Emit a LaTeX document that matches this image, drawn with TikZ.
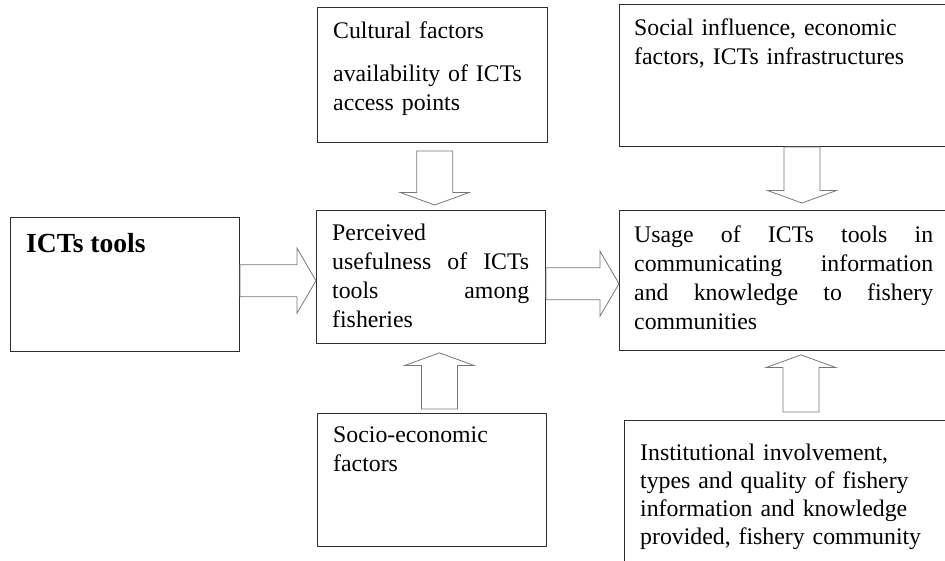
\documentclass[tikz,border=0pt]{standalone}
\usepackage{fontspec}
\setmainfont{Liberation Serif}
\usetikzlibrary{positioning,calc}
\definecolor{BoxColor}{RGB}{45,45,45}
\definecolor{ArrowColor}{RGB}{120,120,120}
\setlength{\parindent}{0pt}
\hyphenpenalty=10000
\tolerance=10000

% hollow block arrows: left to right, and up or down
\newcommand{\hblock}[2]{%
  \draw[blockarrow] let \p1=(#1), \p2=(#2), \n1={(\y1+\y2)/2} in
    (\x1,\n1+16pt) -- (\x2-19pt,\n1+16pt) -- (\x2-19pt,\n1+32.5pt) -- (\x2,\n1)
    -- (\x2-19pt,\n1-32.5pt) -- (\x2-19pt,\n1-16pt) -- (\x1,\n1-16pt) -- cycle;}
\newcommand{\vblock}[2]{%
  \draw[blockarrow] let \p1=(#1), \p2=(#2), \n1={(\x1+\x2)/2}, \n2={\y2-12.5*sign(\y2-\y1)} in
    (\n1-18pt,\y1) -- (\n1-18pt,\n2) -- (\n1-34.5pt,\n2) -- (\n1,\y2)
    -- (\n1+34.5pt,\n2) -- (\n1+18pt,\n2) -- (\n1+18pt,\y1) -- cycle;}

\begin{document}
\begin{tikzpicture}[x=1pt, y=-1pt,
    box/.style={draw=BoxColor, line width=0.9pt, anchor=north west, inner sep=0pt},
    txt/.style={anchor=north west, inner sep=0pt, font=\fontsize{23.8}{29}\selectfont},
    blockarrow/.style={draw=ArrowColor, line width=0.8pt, line join=miter}]

    \useasboundingbox (0,0) rectangle (945,560);
    \clip (0,0) rectangle (945,560);

    % boxes
    \node[box, minimum width=229pt, minimum height=134pt] (ict) at (10,217) {};
    \node[box, minimum width=230pt, minimum height=135pt] (cult) at (317,7) {};
    \node[box, minimum width=229pt, minimum height=133pt] (perc) at (316,210) {};
    \node[box, minimum width=229pt, minimum height=133pt] (socio) at (317,413) {};
    \node[box, minimum width=365pt, minimum height=142pt] (social) at (619,4) {};
    \node[box, minimum width=365pt, minimum height=140pt] (usage) at (619,210) {};
    \node[box, minimum width=365pt, minimum height=170pt] (inst) at (624,420) {};

    % texts
    \node[txt, font=\fontsize{27.6}{33}\selectfont\bfseries,
        below right=16pt and 16pt of ict.north west] (ictT) {ICTs tools};
    \node[txt, text width=200pt, align=left, below right=15pt and 16pt of cult.north west] (cultT)
        {Cultural factors\\[14pt]availability of ICTs\\access points};
    \node[txt, text width=197pt, align=justify, below right=14pt and 16pt of perc.north west] (percT)
        {Perceived\newline usefulness of ICTs\linebreak tools among\linebreak fisheries};
    \node[txt, text width=200pt, align=left, below right=14pt and 16pt of socio.north west] (socioT)
        {Socio-economic\\factors};
    \node[txt, text width=320pt, align=left, below right=15pt and 15pt of social.north west] (socialT)
        {Social influence, economic\\factors, ICTs infrastructures};
    \node[txt, text width=299pt, align=justify, below right=16pt and 15pt of usage.north west] (usageT)
        {Usage of ICTs tools in\linebreak communicating information\linebreak and knowledge to fishery\linebreak communities};
    \node[txt, font=\fontsize{23.8}{28}\selectfont, text width=320pt, align=left,
        below right=24pt and 16pt of inst.north west] (instT)
        {Institutional involvement,\\types and quality of fishery\\information and knowledge\\provided, fishery community};

    % arrows
    \hblock{ict.east}{perc.west}
    \hblock{[yshift=-5pt]perc.east}{[yshift=-5pt]usage.west}
    \vblock{[shift={(3pt,-8pt)}]cult.south}{[shift={(3pt,5pt)}]perc.north}
    \vblock{social.south}{[yshift=7pt]usage.north}
    \vblock{[shift={(8pt,4pt)}]socio.north}{[shift={(8pt,-9pt)}]perc.south}
    \vblock{[shift={(-3.5pt,8pt)}]inst.north}{[shift={(-3.5pt,-4pt)}]usage.south}

\end{tikzpicture}
\end{document}
